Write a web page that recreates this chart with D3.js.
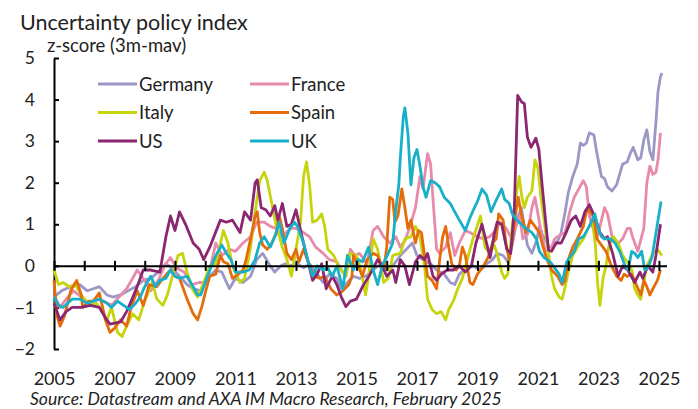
<!DOCTYPE html>
<html>
<head>
<meta charset="utf-8">
<script src="https://cdn.jsdelivr.net/npm/d3@7"></script>
<style>
  body { margin: 0; background: #fff; }
  svg { display: block; font-family: Lato, "Open Sans", sans-serif; }
</style>
</head>
<body>
<svg id="chart"></svg>
<script>
// series: [decimal year, z-score]
var germany = [[2005.0,-0.75],[2005.25,-0.6],[2005.55,-0.5],[2005.85,-0.45],[2006.1,-0.6],[2006.3,-0.55],[2006.5,-0.5],[2006.75,-0.7],[2006.95,-0.75],[2007.2,-0.7],[2007.45,-0.6],[2007.7,-0.5],[2007.95,-0.35],[2008.2,-0.3],[2008.45,-0.15],[2008.7,0.05],[2008.9,-0.05],[2009.15,-0.25],[2009.4,-0.45],[2009.6,-0.55],[2009.85,-0.6],[2010.15,-0.25],[2010.35,-0.1],[2010.55,-0.15],[2010.8,-0.55],[2011.0,-0.3],[2011.25,-0.4],[2011.5,-0.25],[2011.7,0.15],[2011.9,0.3],[2012.15,0.0],[2012.3,-0.15],[2012.5,0.0],[2012.65,0.05],[2012.8,0.0],[2013.05,0.05],[2013.25,-0.05],[2013.45,0.05],[2013.7,-0.2],[2013.9,-0.4],[2014.1,-0.2],[2014.35,-0.3],[2014.5,-0.55],[2014.7,-0.4],[2014.9,-0.25],[2015.1,-0.3],[2015.3,-0.25],[2015.55,-0.1],[2015.8,0.05],[2016.0,-0.1],[2016.2,0.0],[2016.45,0.25],[2016.65,0.4],[2016.85,0.55],[2017.0,0.25],[2017.2,0.15],[2017.45,0.05],[2017.65,-0.1],[2017.9,-0.2],[2018.1,-0.4],[2018.25,-0.45],[2018.4,-0.2],[2018.65,-0.05],[2018.85,0.0],[2019.1,-0.1],[2019.3,0.05],[2019.5,0.15],[2019.65,0.3],[2019.85,0.25],[2020.0,0.1],[2020.15,0.5],[2020.3,1.1],[2020.45,1.4],[2020.55,0.95],[2020.65,0.5],[2020.8,0.3],[2020.95,0.6],[2021.05,0.95],[2021.15,0.75],[2021.3,0.55],[2021.4,0.4],[2021.55,0.5],[2021.65,0.6],[2021.75,0.75],[2021.9,1.3],[2022.0,1.75],[2022.15,2.15],[2022.3,2.45],[2022.4,2.95],[2022.5,2.9],[2022.6,2.95],[2022.7,3.2],[2022.85,3.15],[2022.95,2.7],[2023.1,2.15],[2023.2,2.1],[2023.3,1.9],[2023.45,1.8],[2023.6,1.95],[2023.7,2.2],[2023.8,2.45],[2023.95,2.5],[2024.05,2.7],[2024.15,2.85],[2024.3,2.55],[2024.4,2.6],[2024.5,3.03],[2024.6,3.27],[2024.7,2.75],[2024.8,2.55],[2024.9,3.45],[2024.97,4.2],[2025.05,4.55],[2025.1,4.64]];

var france = [[2005.0,-0.7],[2005.2,-1.0],[2005.4,-0.8],[2005.65,-0.6],[2005.9,-0.75],[2006.15,-0.9],[2006.4,-0.8],[2006.65,-0.85],[2006.9,-0.95],[2007.15,-0.75],[2007.4,-0.55],[2007.6,-0.3],[2007.75,-0.1],[2007.95,-0.3],[2008.2,-0.6],[2008.45,-0.35],[2008.65,0.0],[2008.85,0.2],[2009.05,-0.05],[2009.3,-0.15],[2009.55,-0.45],[2009.8,-0.4],[2010.0,-0.4],[2010.15,-0.1],[2010.35,0.55],[2010.55,0.25],[2010.8,0.4],[2011.0,0.35],[2011.25,0.55],[2011.5,0.7],[2011.7,1.05],[2011.95,1.05],[2012.15,0.95],[2012.35,0.9],[2012.55,0.7],[2012.8,0.9],[2013.0,0.9],[2013.25,0.8],[2013.45,0.7],[2013.65,0.45],[2013.9,0.3],[2014.1,0.15],[2014.35,0.1],[2014.5,-0.1],[2014.65,-0.25],[2014.8,0.4],[2014.95,0.25],[2015.1,0.3],[2015.35,0.05],[2015.55,0.85],[2015.7,0.95],[2015.9,0.7],[2016.1,0.55],[2016.3,0.7],[2016.45,0.45],[2016.6,0.6],[2016.75,0.9],[2016.95,1.4],[2017.1,2.15],[2017.2,1.85],[2017.35,2.7],[2017.45,2.45],[2017.55,1.4],[2017.65,0.4],[2017.75,0.3],[2017.95,0.45],[2018.1,0.8],[2018.25,0.25],[2018.4,0.55],[2018.6,0.85],[2018.75,0.8],[2019.0,0.7],[2019.2,0.65],[2019.4,0.7],[2019.6,0.85],[2019.75,1.05],[2019.95,0.9],[2020.1,0.7],[2020.25,0.9],[2020.4,1.2],[2020.5,0.65],[2020.65,0.75],[2020.8,1.4],[2020.9,1.65],[2021.0,1.25],[2021.15,0.65],[2021.25,0.35],[2021.4,0.35],[2021.55,0.65],[2021.75,0.75],[2021.9,0.8],[2022.05,1.3],[2022.2,1.65],[2022.35,1.85],[2022.5,2.05],[2022.6,1.9],[2022.7,1.2],[2022.8,0.95],[2022.95,0.65],[2023.05,0.95],[2023.2,1.4],[2023.3,1.25],[2023.45,0.7],[2023.6,0.5],[2023.8,0.65],[2023.95,0.9],[2024.05,0.9],[2024.15,0.65],[2024.3,0.35],[2024.5,0.9],[2024.6,2.0],[2024.7,2.4],[2024.8,2.2],[2024.9,2.25],[2024.97,2.55],[2025.05,3.2]];

var italy = [[2005.0,-0.1],[2005.15,-0.45],[2005.3,-0.4],[2005.5,-0.5],[2005.7,-0.45],[2005.95,-0.75],[2006.2,-0.95],[2006.4,-0.9],[2006.55,-1.05],[2006.75,-1.3],[2006.9,-1.0],[2007.1,-1.6],[2007.25,-1.7],[2007.4,-1.45],[2007.6,-1.15],[2007.8,-1.3],[2008.0,-0.85],[2008.25,-0.4],[2008.4,-0.8],[2008.6,-0.95],[2008.75,-0.7],[2008.95,-0.15],[2009.1,0.25],[2009.25,0.3],[2009.4,-0.15],[2009.6,-0.6],[2009.75,-0.75],[2009.95,-0.4],[2010.15,0.0],[2010.35,0.05],[2010.6,0.85],[2010.75,0.55],[2010.9,0.0],[2011.15,-0.4],[2011.3,-0.3],[2011.5,0.45],[2011.65,1.3],[2011.8,2.05],[2011.95,2.25],[2012.05,2.05],[2012.2,1.5],[2012.35,0.95],[2012.55,0.45],[2012.7,0.15],[2012.85,-0.25],[2013.0,0.4],[2013.15,1.05],[2013.25,2.15],[2013.35,2.5],[2013.45,1.95],[2013.55,1.05],[2013.7,1.1],[2013.85,1.25],[2013.95,0.95],[2014.05,0.4],[2014.25,0.25],[2014.4,0.0],[2014.55,-0.15],[2014.65,-0.25],[2014.8,0.3],[2015.0,0.25],[2015.15,-0.1],[2015.3,-0.7],[2015.4,-0.25],[2015.55,0.65],[2015.7,0.4],[2015.9,-0.4],[2016.05,-0.3],[2016.2,0.25],[2016.45,0.3],[2016.6,0.65],[2016.8,0.7],[2016.95,0.95],[2017.1,0.7],[2017.25,0.0],[2017.35,-0.8],[2017.5,-1.05],[2017.65,-1.15],[2017.8,-1.1],[2017.95,-1.3],[2018.05,-1.05],[2018.2,-0.85],[2018.35,-0.55],[2018.5,-0.3],[2018.7,0.25],[2018.85,0.65],[2019.1,1.2],[2019.25,0.45],[2019.4,0.3],[2019.55,0.5],[2019.65,0.3],[2019.8,-0.15],[2019.9,-0.3],[2020.0,-0.2],[2020.15,0.95],[2020.3,1.8],[2020.38,2.15],[2020.47,1.65],[2020.55,1.4],[2020.65,1.65],[2020.8,1.8],[2020.9,2.55],[2021.0,2.35],[2021.1,1.65],[2021.2,1.1],[2021.35,0.3],[2021.45,-0.25],[2021.55,-0.55],[2021.7,-0.75],[2021.8,-0.8],[2021.9,-0.5],[2022.0,-0.15],[2022.15,0.25],[2022.35,0.5],[2022.5,0.65],[2022.65,0.9],[2022.8,1.1],[2022.9,0.5],[2022.97,-0.4],[2023.05,-0.95],[2023.15,-0.3],[2023.25,0.0],[2023.35,0.5],[2023.5,0.7],[2023.65,0.55],[2023.8,0.25],[2023.95,0.1],[2024.1,-0.1],[2024.2,-0.55],[2024.3,-0.7],[2024.4,-0.8],[2024.5,-0.4],[2024.6,0.0],[2024.7,0.15],[2024.8,0.3],[2024.95,0.4],[2025.1,0.25]];

var spain = [[2005.0,-0.35],[2005.1,-1.2],[2005.2,-1.45],[2005.35,-1.2],[2005.55,-0.6],[2005.75,-0.35],[2005.9,-0.7],[2005.95,-1.0],[2006.15,-0.85],[2006.3,-0.85],[2006.5,-0.65],[2006.7,-1.3],[2006.85,-1.6],[2007.0,-1.5],[2007.2,-1.3],[2007.4,-1.45],[2007.55,-1.0],[2007.75,-0.6],[2007.95,-0.95],[2008.15,-0.45],[2008.4,-0.5],[2008.6,-0.3],[2008.85,-0.1],[2009.0,-0.25],[2009.15,-0.3],[2009.4,-0.8],[2009.6,-1.15],[2009.75,-1.3],[2009.9,-0.95],[2010.0,-0.65],[2010.15,-0.25],[2010.35,-0.2],[2010.5,0.25],[2010.6,0.1],[2010.75,0.05],[2010.9,-0.3],[2011.1,-0.2],[2011.25,-0.1],[2011.35,0.15],[2011.5,0.65],[2011.65,1.2],[2011.72,1.3],[2011.8,0.8],[2011.9,0.5],[2012.05,0.4],[2012.2,0.55],[2012.35,0.8],[2012.45,1.2],[2012.55,0.9],[2012.7,0.3],[2012.85,0.15],[2013.0,0.4],[2013.1,0.1],[2013.25,0.4],[2013.45,0.0],[2013.6,-0.25],[2013.8,-0.3],[2013.95,-0.25],[2014.15,-0.55],[2014.35,-0.7],[2014.55,-0.6],[2014.75,-0.45],[2014.85,-0.25],[2014.9,0.25],[2015.05,0.0],[2015.2,-0.25],[2015.35,0.15],[2015.55,0.3],[2015.7,0.25],[2015.9,-0.1],[2016.0,0.45],[2016.1,1.65],[2016.2,1.6],[2016.27,1.05],[2016.37,1.2],[2016.5,1.85],[2016.6,1.4],[2016.7,0.9],[2016.8,1.1],[2016.95,0.55],[2017.05,0.85],[2017.15,0.8],[2017.25,0.25],[2017.35,-0.25],[2017.5,-0.35],[2017.65,-0.55],[2017.75,0.15],[2017.85,0.7],[2017.95,0.95],[2018.05,0.45],[2018.15,0.05],[2018.3,-0.1],[2018.4,0.0],[2018.5,0.45],[2018.6,0.25],[2018.75,-0.4],[2018.85,-0.45],[2019.0,-0.2],[2019.2,0.0],[2019.35,0.2],[2019.5,0.55],[2019.62,0.65],[2019.7,1.25],[2019.85,1.1],[2019.95,0.5],[2020.05,0.15],[2020.15,0.6],[2020.25,1.2],[2020.35,1.65],[2020.45,1.25],[2020.6,0.8],[2020.75,1.1],[2020.9,0.95],[2021.05,0.8],[2021.15,0.5],[2021.3,0.15],[2021.45,-0.1],[2021.65,-0.25],[2021.8,-0.45],[2021.9,-0.35],[2022.0,0.15],[2022.15,0.45],[2022.3,0.65],[2022.5,0.95],[2022.6,1.3],[2022.7,1.35],[2022.85,1.15],[2022.95,0.65],[2023.1,0.5],[2023.25,0.35],[2023.4,0.05],[2023.6,-0.25],[2023.75,-0.35],[2023.85,-0.2],[2023.95,-0.25],[2024.1,-0.2],[2024.25,-0.45],[2024.4,-0.7],[2024.5,-0.35],[2024.6,-0.5],[2024.7,-0.7],[2024.8,-0.55],[2024.95,-0.35],[2025.05,-0.1]];

var us = [[2005.0,-0.9],[2005.2,-1.3],[2005.4,-1.1],[2005.6,-1.0],[2005.9,-1.0],[2006.2,-0.95],[2006.5,-1.0],[2006.7,-1.25],[2006.85,-1.4],[2007.2,-1.35],[2007.4,-1.1],[2007.55,-0.85],[2007.75,-0.5],[2007.95,-0.1],[2008.2,-0.1],[2008.5,-0.15],[2008.7,0.7],[2008.85,1.2],[2009.0,0.85],[2009.15,1.3],[2009.35,1.0],[2009.6,0.55],[2009.8,0.4],[2009.95,0.15],[2010.15,0.45],[2010.5,1.1],[2010.7,1.05],[2010.9,1.1],[2011.15,0.8],[2011.3,1.3],[2011.5,1.1],[2011.65,2.0],[2011.72,2.07],[2011.85,1.4],[2012.0,1.35],[2012.15,1.2],[2012.3,1.45],[2012.4,1.1],[2012.55,1.5],[2012.7,0.95],[2012.85,1.0],[2013.0,1.35],[2013.2,0.7],[2013.35,0.25],[2013.55,-0.35],[2013.7,-0.2],[2013.85,0.05],[2014.0,-0.55],[2014.2,-0.25],[2014.35,-0.45],[2014.5,-0.75],[2014.65,-0.98],[2014.8,-0.85],[2015.0,-0.8],[2015.2,-0.5],[2015.45,-0.2],[2015.7,0.15],[2015.85,0.0],[2016.0,-0.25],[2016.2,-0.1],[2016.3,-0.4],[2016.45,0.15],[2016.6,0.0],[2016.75,-0.45],[2016.95,0.1],[2017.1,0.25],[2017.25,0.15],[2017.35,0.3],[2017.53,-0.25],[2017.65,-0.35],[2017.8,-0.2],[2018.0,-0.1],[2018.2,-0.1],[2018.4,0.0],[2018.6,-0.15],[2018.8,0.0],[2018.95,0.55],[2019.15,1.0],[2019.3,0.55],[2019.42,0.2],[2019.55,0.75],[2019.65,1.05],[2019.8,1.0],[2019.97,0.4],[2020.1,0.3],[2020.22,1.4],[2020.33,4.1],[2020.45,3.95],[2020.55,3.9],[2020.65,3.1],[2020.77,2.85],[2020.93,3.07],[2021.03,2.8],[2021.13,2.0],[2021.25,1.1],[2021.35,0.38],[2021.45,0.35],[2021.6,0.55],[2021.77,0.55],[2021.93,0.8],[2022.1,1.1],[2022.25,1.2],[2022.4,0.95],[2022.55,1.3],[2022.7,1.47],[2022.87,1.2],[2023.05,0.8],[2023.2,0.65],[2023.3,0.7],[2023.47,0.3],[2023.65,-0.25],[2023.8,0.0],[2023.97,-0.1],[2024.2,-0.4],[2024.37,-0.15],[2024.47,-0.3],[2024.63,0.0],[2024.8,-0.15],[2024.9,0.25],[2025.05,1.0]];

var uk = [[2005.0,-0.75],[2005.15,-0.95],[2005.3,-1.0],[2005.45,-0.9],[2005.6,-0.8],[2005.85,-0.8],[2006.1,-0.9],[2006.3,-0.85],[2006.5,-0.8],[2006.75,-0.9],[2006.9,-1.0],[2007.1,-0.85],[2007.3,-0.95],[2007.5,-1.05],[2007.7,-0.9],[2007.85,-0.75],[2008.0,-0.5],[2008.2,-0.25],[2008.35,-0.5],[2008.5,-0.35],[2008.7,-0.3],[2008.85,-0.1],[2009.0,-0.25],[2009.15,-0.3],[2009.4,-0.25],[2009.6,-0.5],[2009.75,-0.7],[2009.85,-0.7],[2010.0,-0.4],[2010.15,-0.1],[2010.35,0.25],[2010.55,0.5],[2010.7,0.3],[2010.85,0.15],[2011.0,-0.15],[2011.25,-0.15],[2011.45,-0.1],[2011.65,0.15],[2011.8,0.55],[2011.95,0.7],[2012.15,0.45],[2012.3,0.7],[2012.45,1.05],[2012.6,0.55],[2012.8,0.9],[2012.95,1.05],[2013.05,0.95],[2013.25,0.55],[2013.4,0.1],[2013.55,-0.25],[2013.7,0.0],[2013.9,-0.1],[2014.05,-0.05],[2014.2,-0.25],[2014.35,0.0],[2014.55,-0.55],[2014.7,0.25],[2014.9,-0.1],[2015.05,0.15],[2015.2,0.1],[2015.4,0.45],[2015.55,-0.1],[2015.7,-0.45],[2015.85,0.0],[2016.05,0.3],[2016.2,0.55],[2016.3,1.35],[2016.4,1.95],[2016.45,2.6],[2016.55,3.6],[2016.6,3.8],[2016.7,3.2],[2016.8,1.95],[2016.9,2.6],[2017.0,2.8],[2017.1,2.4],[2017.2,1.9],[2017.3,1.65],[2017.45,2.05],[2017.6,2.0],[2017.75,1.9],[2017.9,1.65],[2018.1,1.5],[2018.25,1.3],[2018.4,1.1],[2018.6,0.85],[2018.75,1.15],[2018.9,1.4],[2019.0,1.55],[2019.15,1.85],[2019.3,1.7],[2019.45,1.3],[2019.6,1.55],[2019.8,1.85],[2019.9,1.6],[2020.05,1.5],[2020.15,1.25],[2020.3,1.1],[2020.45,1.0],[2020.6,0.9],[2020.8,0.8],[2020.95,0.65],[2021.05,0.35],[2021.2,0.2],[2021.4,0.1],[2021.55,-0.05],[2021.7,-0.2],[2021.8,-0.4],[2021.95,0.1],[2022.05,0.2],[2022.2,0.35],[2022.35,0.65],[2022.5,0.7],[2022.7,0.95],[2022.88,1.25],[2022.97,0.95],[2023.1,0.7],[2023.2,0.65],[2023.4,0.65],[2023.55,0.55],[2023.7,0.35],[2023.88,0.0],[2023.98,-0.1],[2024.1,0.35],[2024.2,0.3],[2024.3,0.2],[2024.43,0.35],[2024.53,-0.1],[2024.63,-0.05],[2024.77,0.2],[2024.87,0.65],[2024.97,1.1],[2025.07,1.55]];

var seriesNames = ["Germany", "France", "Italy", "Spain", "US", "UK"];
var seriesColors = ["#9b97c6", "#e88aab", "#c6d40c", "#e46c0a", "#8a2770", "#18b0c9"];
var yTicks = [-2, -1, 0, 1, 2, 3, 4, 5];
var xTickYears = d3.range(2005, 2026);
var xLabelYears = [2005, 2007, 2009, 2011, 2013, 2015, 2017, 2019, 2021, 2023, 2025];

window.onload = function() {
  var width = 698, height = 409;
  var svg = d3.select("#chart").attr("width", width).attr("height", height);

  var x = d3.scaleLinear().domain([2005, 2025.25]).range([54, 666.5]);
  var y = d3.scaleLinear().domain([-2, 5]).range([349, 58]);

  // title + unit
  svg.append("text").attr("x", 20).attr("y", 30)
    .attr("font-size", 21.5).attr("fill", "#222").text("Uncertainty policy index");
  svg.append("text").attr("x", 47).attr("y", 52)
    .attr("font-size", 18.5).attr("fill", "#222").text("z-score (3m-mav)");

  // y axis, ticks point inward
  var yAxis = svg.append("g")
    .attr("transform", "translate(54,0)")
    .call(d3.axisLeft(y).tickValues(yTicks).tickSizeInner(-5).tickSizeOuter(0).tickPadding(19).tickFormat(d3.format("d")));
  yAxis.select(".domain").attr("stroke", "#000").attr("stroke-width", 2);
  yAxis.selectAll(".tick line").attr("stroke", "#000").attr("stroke-width", 2);
  yAxis.selectAll(".tick text").attr("font-size", 17.5).attr("fill", "#222")
    .style("font-family", "Lato, sans-serif");

  // lines
  var line = d3.line()
    .x(function(d) { return x(d[0]); })
    .y(function(d) { return y(d[1]); });

  var allSeries = [germany, france, italy, spain, us, uk];
  svg.append("g").selectAll("path")
    .data(allSeries).enter()
    .append("path")
    .attr("d", line)
    .attr("fill", "none")
    .attr("stroke", function(d, i) { return seriesColors[i]; })
    .attr("stroke-width", 2.8)
    .attr("stroke-linejoin", "round");

  // zero line with year ticks crossing it
  var xAxis = svg.append("g")
    .attr("transform", "translate(0," + y(0) + ")")
    .call(d3.axisBottom(x).tickValues(xTickYears).tickSizeInner(5).tickSizeOuter(0).tickFormat(""));
  xAxis.select(".domain").attr("stroke", "#000").attr("stroke-width", 2);
  xAxis.selectAll(".tick line").attr("y1", -5).attr("stroke", "#000").attr("stroke-width", 2);

  // year labels under the plot
  var xLabels = svg.append("g")
    .attr("transform", "translate(0,366)")
    .call(d3.axisBottom(x).tickValues(xLabelYears).tickSize(0).tickPadding(6).tickFormat(d3.format("d")));
  xLabels.select(".domain").remove();
  xLabels.selectAll(".tick text").attr("font-size", 18).attr("fill", "#222")
    .style("font-family", "Lato, sans-serif");

  // legend, two columns by three rows
  var legend = svg.append("g").selectAll("g")
    .data(seriesNames).enter()
    .append("g")
    .attr("transform", function(d, i) {
      var col = i % 2, row = Math.floor(i / 2);
      return "translate(" + (98 + col * 152) + "," + (84 + row * 28.5) + ")";
    });
  legend.append("line")
    .attr("x1", 0).attr("x2", 39).attr("y1", 0).attr("y2", 0)
    .attr("stroke", function(d, i) { return seriesColors[i]; })
    .attr("stroke-width", 3);
  legend.append("text")
    .attr("x", 41).attr("y", 6.5)
    .attr("font-size", 18.5).attr("fill", "#222")
    .text(function(d) { return d; });

  // source note
  svg.append("text").attr("x", 30).attr("y", 405)
    .attr("font-size", 17.5).attr("font-style", "italic").attr("fill", "#222")
    .text("Source: Datastream and AXA IM Macro Research, February 2025");
};
</script>
</body>
</html>
